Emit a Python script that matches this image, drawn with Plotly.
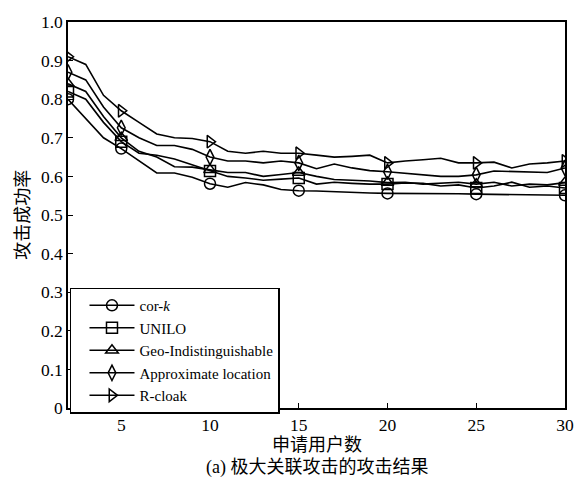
import plotly.graph_objects as go

# Number of requesting users
users = list(range(2, 31))
marker_users = [2, 5, 10, 15, 20, 25, 30]

# Attack success rate of each scheme under the maximal-correlation attack
cor_k = [0.80, 0.75, 0.70, 0.672, 0.64, 0.609, 0.609, 0.598, 0.581, 0.572,
         0.584, 0.578, 0.566, 0.563, 0.562, 0.560, 0.558, 0.557, 0.556, 0.556,
         0.556, 0.555, 0.555, 0.554, 0.553, 0.553, 0.552, 0.552, 0.551]
unilo = [0.82, 0.80, 0.74, 0.690, 0.66, 0.655, 0.645, 0.630, 0.614, 0.600,
         0.596, 0.590, 0.593, 0.596, 0.580, 0.585, 0.582, 0.580, 0.580, 0.583,
         0.582, 0.575, 0.578, 0.570, 0.575, 0.585, 0.572, 0.575, 0.570]
geo_ind = [0.84, 0.82, 0.755, 0.700, 0.665, 0.650, 0.625, 0.624, 0.617, 0.610,
           0.610, 0.600, 0.605, 0.610, 0.600, 0.592, 0.590, 0.588, 0.584, 0.585,
           0.580, 0.582, 0.585, 0.580, 0.585, 0.575, 0.580, 0.578, 0.584]
approx_loc = [0.87, 0.85, 0.78, 0.726, 0.700, 0.680, 0.680, 0.670, 0.650, 0.640,
              0.640, 0.635, 0.640, 0.635, 0.620, 0.632, 0.622, 0.615, 0.612, 0.608,
              0.605, 0.600, 0.600, 0.604, 0.614, 0.613, 0.612, 0.610, 0.622]
r_cloak = [0.91, 0.89, 0.81, 0.770, 0.740, 0.710, 0.700, 0.698, 0.690, 0.665,
           0.660, 0.665, 0.660, 0.660, 0.655, 0.650, 0.652, 0.655, 0.635, 0.640,
           0.643, 0.647, 0.635, 0.635, 0.637, 0.622, 0.632, 0.635, 0.640]

y_ticks = [0, 0.1, 0.2, 0.3, 0.4, 0.5, 0.6, 0.7, 0.8, 0.9, 1.0]
y_tick_text = ["0", "0.1", "0.2", "0.3", "0.4", "0.5", "0.6", "0.7", "0.8", "0.9", "1.0"]
x_ticks = [5, 10, 15, 20, 25, 30]

series = [
    ("cor-<i>k</i>", cor_k, "circle"),
    ("UNILO", unilo, "square"),
    ("Geo-Indistinguishable", geo_ind, "triangle-up"),
    ("Approximate location", approx_loc, "diamond-tall"),
    ("R-cloak", r_cloak, "triangle-right"),
]

SERIF = "Liberation Serif"
CJK = "Liberation Serif, Noto Sans CJK SC"

fig = go.Figure()
for name, vals, sym in series:
    # outline only the markers at the labelled user counts
    edge = ["black" if u in marker_users else "rgba(0,0,0,0)" for u in users]
    fig.add_trace(go.Scatter(
        x=users, y=vals, name=name, mode="lines+markers",
        line=dict(color="black", width=1.6),
        marker=dict(symbol=sym, size=11, color="rgba(0,0,0,0)",
                    line=dict(color=edge, width=1.5)),
    ))

axis_common = dict(
    showline=True, linecolor="black", linewidth=1.5, mirror=True,
    ticks="inside", ticklen=5, tickwidth=1.2, tickcolor="black",
    showgrid=False, zeroline=False,
    tickfont=dict(family=SERIF, size=17.5, color="black"),
)

fig.update_layout(
    width=586, height=477,
    margin=dict(l=68, r=14, t=14, b=69),
    paper_bgcolor="white", plot_bgcolor="white",
    font=dict(family=SERIF, color="black"),
    xaxis=dict(range=[2, 30], tickvals=x_ticks, **axis_common),
    yaxis=dict(range=[0, 1.0], tickvals=y_ticks, ticktext=y_tick_text, **axis_common),
    legend=dict(
        x=0.004, y=0.312, xanchor="left", yanchor="top",
        bordercolor="black", borderwidth=1.5, bgcolor="white",
        font=dict(family=SERIF, size=15, color="black"),
        tracegroupgap=0, itemwidth=45, indentation=13,
    ),
    showlegend=True,
    annotations=[
        dict(text="申请用户数", xref="paper", yref="paper", x=0.5, y=-0.097,
             xanchor="center", yanchor="middle", showarrow=False,
             font=dict(family=CJK, size=18, color="black")),
        dict(text="(a) 极大关联攻击的攻击结果", xref="paper", yref="paper", x=0.5, y=-0.153,
             xanchor="center", yanchor="middle", showarrow=False,
             font=dict(family=CJK, size=18, color="black")),
        dict(text="攻击成功率", xref="paper", yref="paper", x=-0.091, y=0.5,
             xanchor="center", yanchor="middle", textangle=-90, showarrow=False,
             font=dict(family=CJK, size=18, color="black")),
    ],
)

fig.write_html("out.html")
